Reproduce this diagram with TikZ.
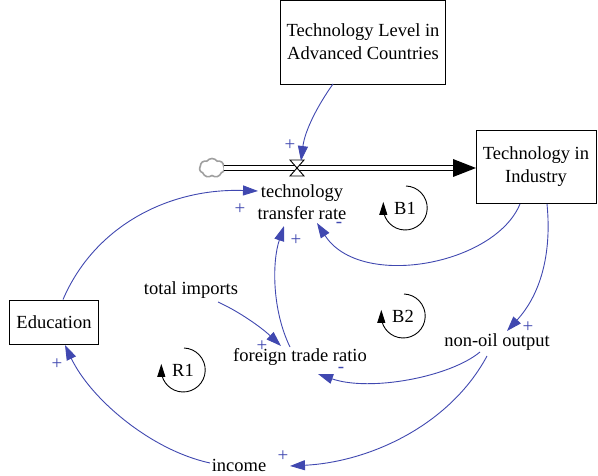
\documentclass[tikz,border=0pt]{standalone}
\usepackage{fontspec}
\setmainfont{Liberation Serif}
\usetikzlibrary{arrows.meta,shapes.symbols}
\definecolor{linkblue}{RGB}{64,72,176}
\tikzset{
  lbl/.style={font=\fontsize{18.5}{22}\selectfont, align=center, inner sep=1pt},
  stockbox/.style={draw, line width=0.9pt, fill=white, align=center,
    font=\fontsize{18.5}{23}\selectfont},
  link/.style={draw=linkblue, line width=0.9pt,
    -{Triangle[length=15pt,width=10pt]}, color=linkblue},
  pol/.style={text=linkblue, font=\fontsize{19}{19}\selectfont, inner sep=0pt},
  loopname/.style={font=\fontsize{18.5}{22}\selectfont, inner sep=0pt},
  looparc/.style={line width=0.9pt, -{Triangle[length=13pt,width=8pt]}}
}
\begin{document}
\begin{tikzpicture}[x=1pt,y=-1pt]
\useasboundingbox (0,0) rectangle (598,476);

% stocks
\node[stockbox, minimum width=165pt, minimum height=84pt] (tla) at (363,42)
  {Technology Level in\\Advanced Countries};
\node[stockbox, minimum width=120pt, minimum height=73pt] (tii) at (536,167)
  {Technology in\\Industry};
\node[stockbox, minimum width=89pt, minimum height=44pt] (edu) at (54,322)
  {Education};

% flow: source cloud, pipe and valve
\node[cloud, draw=gray!75, line width=1.6pt, fill=white, cloud puffs=7,
  cloud puff arc=110, minimum width=25pt, minimum height=19pt, inner sep=0pt]
  (src) at (212,168) {};
\coordinate (pipeL) at (224,168);
\coordinate (pipeR) at (476,168);
\draw[line width=0.9pt, double=white, double distance=3.5pt] (pipeL) -- (453,168);
\fill (453,159) -- (pipeR) -- (453,177) -- cycle;
\coordinate (valve) at (297,168);
\draw[line width=0.9pt, fill=white] (290,160) -- (304,160) -- (297,168) -- cycle;
\draw[line width=0.9pt, fill=white] (290,176) -- (304,176) -- (297,168) -- cycle;

% variables
\node[lbl] (ttr) at (302,202) {technology\\transfer rate};
\node[lbl] (imp) at (191,290) {total imports};
\node[lbl] (ftr) at (300,357) {foreign trade ratio};
\node[lbl] (noo) at (497,342) {non-oil output};
\node[lbl] (inc) at (239,465) {income};

% causal links
\draw[link] (333,84) .. controls (318,105) and (305,130) .. (301,161);
\draw[link] (edu.north -| 63,0) .. controls (95,225) and (170,188) .. (258,191);
\draw[link] (tii.south -| 520,0) .. controls (495,265) and (360,290) .. (317,223);
\draw[link] (tii.south -| 547,0) .. controls (552,255) and (540,295) .. (507,331);
\draw[link] (218,302) .. controls (240,312) and (262,328) .. (281,346);
\draw[link] (290,347) .. controls (272,310) and (272,262) .. (284,226);
\draw[link] (480,352) .. controls (450,377) and (370,392) .. (318,374);
\draw[link] (487,356) .. controls (450,425) and (370,462) .. (290,466);
\draw[link] (210,463) .. controls (150,450) and (90,398) .. (65,345);

% polarities
\node[pol] at (290,145) {+};
\node[pol] at (240,209) {+};
\node[pol] at (339,225) {-};
\node[pol] at (296,240) {+};
\node[pol] at (262,346) {+};
\node[pol] at (341,370) {-};
\node[pol] at (528,327) {+};
\node[pol] at (283,456) {+};
\node[pol] at (57,364) {+};

% loop markers
\foreach \nm/\cx/\cy in {B1/405/208, B2/403/316, R1/183/370}{
  \node[loopname] (loop\nm) at (\cx,\cy) {\nm};
  \draw[looparc] (\cx+1,\cy-22) arc[start angle=-88, end angle=175, radius=22]
    -- ++(0,-8);
}
\end{tikzpicture}
\end{document}
